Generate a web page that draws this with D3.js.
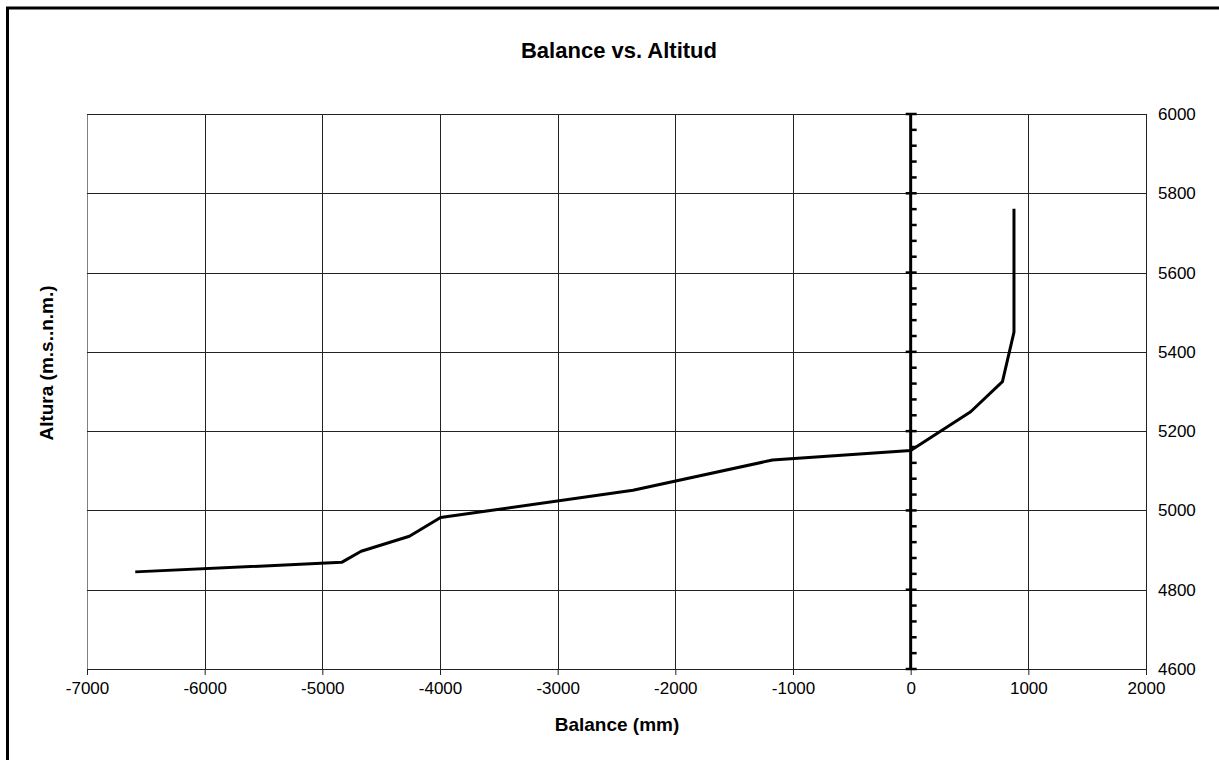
<!DOCTYPE html>
<html>
<head>
<meta charset="utf-8">
<script src="https://cdn.jsdelivr.net/npm/d3@7"></script>
<style>
  body { margin: 0; background: #fff; }
  svg { display: block; font-family: "Liberation Sans", Arial, sans-serif; }
</style>
</head>
<body>
<div id="chart"></div>
<script>
// Chart data
var balance = [-6590, -4836, -4670, -4260, -3995, -2360, -1175, 0, 510, 780, 878, 878];
var altitud = [4845, 4869, 4897, 4935, 4982, 5051, 5127, 5151, 5249, 5325, 5450, 5761];
var xTicks = [-7000, -6000, -5000, -4000, -3000, -2000, -1000, 0, 1000, 2000];
var yTicks = [4600, 4800, 5000, 5200, 5400, 5600, 5800, 6000];
var yMinorTicks = d3.range(4600, 6001, 40);

var width = 1219;
var height = 760;
var margin = { top: 114, right: 73, bottom: 91, left: 87 };
var plotW = width - margin.left - margin.right;
var plotH = height - margin.top - margin.bottom;

var svg = d3.select("#chart")
    .append("svg")
    .attr("width", width)
    .attr("height", height);

// outer frame (only top and left visible)
svg.append("rect")
    .attr("x", 7.5)
    .attr("y", 8)
    .attr("width", width + 20)
    .attr("height", height + 20)
    .attr("fill", "none")
    .attr("stroke", "#000")
    .attr("stroke-width", 3);

var g = svg.append("g")
    .attr("transform", "translate(" + margin.left + "," + margin.top + ")");

var xScale = d3.scaleLinear().domain([-7000, 2000]).range([0, plotW]);
var yScale = d3.scaleLinear().domain([4600, 6000]).range([plotH, 0]);

// gridlines
g.selectAll(".vgrid")
    .data(xTicks)
    .enter()
    .append("line")
    .attr("x1", function (d) { return Math.round(xScale(d)) + 0.5; })
    .attr("x2", function (d) { return Math.round(xScale(d)) + 0.5; })
    .attr("y1", 0)
    .attr("y2", plotH)
    .attr("stroke", function (d) { return d === -7000 ? "#808080" : "#222"; })
    .attr("stroke-width", 1);

g.selectAll(".hgrid")
    .data(yTicks)
    .enter()
    .append("line")
    .attr("x1", 0)
    .attr("x2", plotW)
    .attr("y1", function (d) { return Math.round(yScale(d)) + 0.5; })
    .attr("y2", function (d) { return Math.round(yScale(d)) + 0.5; })
    .attr("stroke", "#222")
    .attr("stroke-width", 1);

// bottom axis
var xAxis = g.append("g")
    .attr("transform", "translate(0," + plotH + ")")
    .call(d3.axisBottom(xScale).tickValues(xTicks).tickSize(6).tickPadding(7)
        .tickFormat(function (d) { return String(d); }));
xAxis.select(".domain").attr("stroke", "#222");
xAxis.selectAll("line").attr("stroke", "#222");
xAxis.selectAll("text")
    .style("font-size", "17px")
    .attr("fill", "#000");

// right axis labels
var yAxis = g.append("g")
    .attr("transform", "translate(" + plotW + ",0)")
    .call(d3.axisRight(yScale).tickValues(yTicks).tickSize(0).tickPadding(12)
        .tickFormat(function (d) { return String(d); }));
yAxis.select(".domain").remove();
yAxis.selectAll("text")
    .style("font-size", "17px")
    .attr("fill", "#000");

// vertical axis at balance = 0
var x0 = xScale(0);
g.append("line")
    .attr("x1", x0).attr("x2", x0)
    .attr("y1", 0).attr("y2", plotH)
    .attr("stroke", "#000")
    .attr("stroke-width", 3);

g.selectAll(".minor")
    .data(yMinorTicks)
    .enter()
    .append("line")
    .attr("x1", function (d) { return d % 200 === 0 ? x0 - 5 : x0; })
    .attr("x2", x0 + 6)
    .attr("y1", function (d) { return yScale(d); })
    .attr("y2", function (d) { return yScale(d); })
    .attr("stroke", "#000")
    .attr("stroke-width", 2.5);

// data line
var points = balance.map(function (b, i) { return [b, altitud[i]]; });
var line = d3.line()
    .x(function (d) { return xScale(d[0]); })
    .y(function (d) { return yScale(d[1]); });

g.append("path")
    .datum(points)
    .attr("d", line)
    .attr("fill", "none")
    .attr("stroke", "#000")
    .attr("stroke-width", 3)
    .attr("stroke-linejoin", "round");

// titles
svg.append("text")
    .attr("x", 619)
    .attr("y", 58)
    .attr("text-anchor", "middle")
    .style("font-size", "22px")
    .style("font-weight", "bold")
    .text("Balance vs. Altitud");

svg.append("text")
    .attr("x", 617)
    .attr("y", 731)
    .attr("text-anchor", "middle")
    .style("font-size", "19px")
    .style("font-weight", "bold")
    .text("Balance (mm)");

svg.append("text")
    .attr("transform", "translate(53,363) rotate(-90)")
    .attr("text-anchor", "middle")
    .style("font-size", "19px")
    .style("font-weight", "bold")
    .text("Altura (m.s..n.m.)");
</script>
</body>
</html>
